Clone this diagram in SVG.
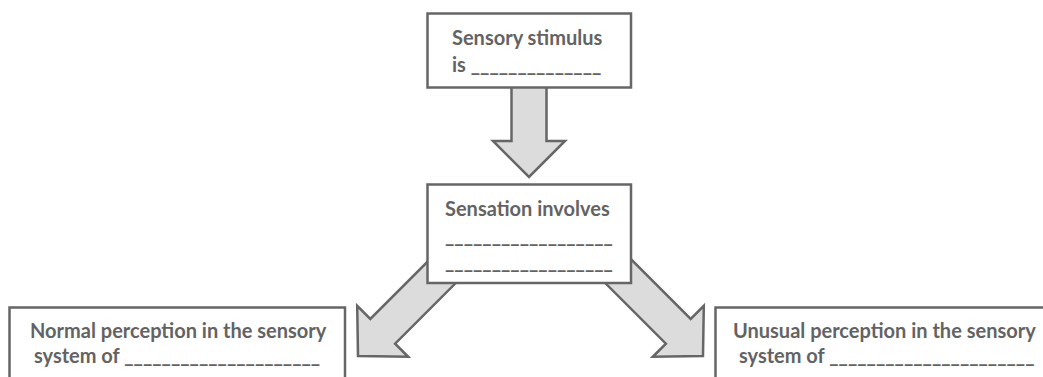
<svg xmlns="http://www.w3.org/2000/svg" width="1043" height="377" viewBox="0 0 1043 377">
  <style>
    .box { fill: #ffffff; stroke: #666666; stroke-width: 2.5; }
    .arrow { fill: #dcdcdc; stroke: #666666; stroke-width: 2.5; stroke-linejoin: miter; }
    .label { font-family: Lato, "Liberation Sans", sans-serif; font-weight: bold; font-size: 20px; fill: #636363; }
  </style>
  <rect width="1043" height="377" fill="#ffffff"/>

  <!-- block arrows, drawn first so the boxes sit on top of their tails -->
  <g id="connectors">
    <polygon class="arrow" points="511.5,86 546.5,86 546.5,141 565,141 529,177 493,141 511.5,141"/>
    <polygon class="arrow" points="433.9,255.3 458.7,280.1 395.1,343.7 408.2,356.8 358,356 357.2,305.8 370.3,318.9"/>
    <polygon class="arrow" points="627.1,255.3 602.3,280.1 665.9,343.7 652.8,356.8 703,356 703.8,305.8 690.7,318.9"/>
  </g>

  <g id="stimulus">
    <rect class="box" x="427.5" y="13.5" width="203.5" height="74"/>
    <text class="label" x="452" y="45">Sensory stimulus</text>
    <text class="label" x="452" y="72">is ______________</text>
  </g>

  <g id="sensation">
    <rect class="box" x="427.5" y="184.5" width="203.5" height="98.5"/>
    <text class="label" x="445" y="216">Sensation involves</text>
    <text class="label" x="445" y="243">__________________</text>
    <text class="label" x="445" y="269">__________________</text>
  </g>

  <g id="normal">
    <rect class="box" x="9.5" y="307.5" width="335.5" height="80"/>
    <text class="label" x="30" y="338">Normal perception in the sensory</text>
    <text class="label" x="34" y="363">system of _____________________</text>
  </g>

  <g id="unusual">
    <rect class="box" x="715.5" y="307.5" width="340" height="80"/>
    <text class="label" x="733" y="338">Unusual perception in the sensory</text>
    <text class="label" x="739" y="363">system of ______________________</text>
  </g>
</svg>
